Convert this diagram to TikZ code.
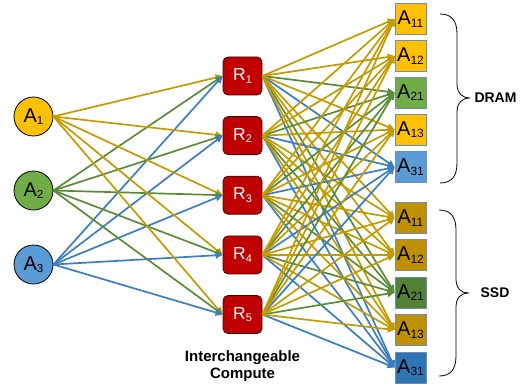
\documentclass[tikz,border=0pt]{standalone}
\usepackage{fontspec}
\setmainfont{Liberation Sans}
\usetikzlibrary{arrows.meta}
\definecolor{goldF}{HTML}{FFC000}
\definecolor{greenF}{HTML}{70AD47}
\definecolor{blueF}{HTML}{5B9BD5}
\definecolor{goldD}{HTML}{BF9000}
\definecolor{greenD}{HTML}{548235}
\definecolor{blueD}{HTML}{2E75B6}
\definecolor{goldE}{HTML}{C39B00}
\definecolor{greenE}{HTML}{5A8C34}
\definecolor{blueE}{HTML}{3A7EC2}
\definecolor{redF}{HTML}{C00000}
\definecolor{redB}{HTML}{3A0A0A}
\definecolor{boxB}{HTML}{6F8DB8}
\newcommand\cirlab[1]{\fontsize{20}{20}\selectfont A\raisebox{-2.5pt}{\fontsize{11.5}{11.5}\selectfont #1}}
\newcommand\rlab[1]{\fontsize{17.5}{17.5}\selectfont R\raisebox{-2.5pt}{\fontsize{11}{11}\selectfont #1}}
\newcommand\blab[1]{\fontsize{20}{20}\selectfont A\raisebox{-2.5pt}{\fontsize{12}{12}\selectfont #1}}
\begin{document}
\begin{tikzpicture}[x=1pt,y=-1pt,
  circ/.style={circle,draw=black,line width=0.8pt,minimum size=39pt,inner sep=0pt},
  rbox/.style={rectangle,rounded corners=5pt,draw=redB,line width=0.8pt,fill=redF,text=white,minimum width=39pt,minimum height=38pt,inner sep=0pt},
  sbox/.style={rectangle,draw=boxB,line width=0.8pt,minimum width=31pt,minimum height=31pt,inner sep=0pt},
  edge/.style={line width=1.7pt,-{Triangle[length=7pt,width=6.5pt]}},
  ge/.style={edge,draw=goldE,fill=goldE},
  gre/.style={edge,draw=greenE,fill=greenE},
  be/.style={edge,draw=blueE,fill=blueE},
  brace/.style={draw=black,line width=0.8pt},
  lbl/.style={font=\bfseries\fontsize{14}{14}\selectfont}
]
\useasboundingbox (0,0) rectangle (521,385);

% left circles
\node[circ,fill=goldF] (A1) at (33.5,116.5) {\cirlab{1}};
\node[circ,fill=greenF] (A2) at (33.5,190.5) {\cirlab{2}};
\node[circ,fill=blueF] (A3) at (33.5,264.5) {\cirlab{3}};

% compute boxes
\node[rbox] (R1) at (242.5,76) {\rlab{1}};
\node[rbox] (R2) at (242.5,135.6) {\rlab{2}};
\node[rbox] (R3) at (242.5,195.2) {\rlab{3}};
\node[rbox] (R4) at (242.5,254.9) {\rlab{4}};
\node[rbox] (R5) at (242.5,314.5) {\rlab{5}};

% DRAM boxes
\node[sbox,fill=goldF] (D11) at (410.5,19) {\blab{11}};
\node[sbox,fill=goldF] (D12) at (410.5,56) {\blab{12}};
\node[sbox,fill=greenF] (D21) at (410.5,92.5) {\blab{21}};
\node[sbox,fill=goldF] (D13) at (410.5,129.5) {\blab{13}};
\node[sbox,fill=blueF] (D31) at (410.5,167) {\blab{31}};
% SSD boxes
\node[sbox,fill=goldD] (S11) at (410.5,218) {\blab{11}};
\node[sbox,fill=goldD] (S12) at (410.5,255) {\blab{12}};
\node[sbox,fill=greenD] (S21) at (410.5,292.5) {\blab{21}};
\node[sbox,fill=goldD] (S13) at (410.5,330) {\blab{13}};
\node[sbox,fill=blueD] (S31) at (410.5,367.5) {\blab{31}};

% left edges
\foreach \j in {1,...,5} {
  \draw[ge] (A1.east) -- (R\j.west);
  \draw[gre] (A2.east) -- (R\j.west);
  \draw[be] (A3.east) -- (R\j.west);
}
% right edges
\foreach \j in {1,...,5} {
  \foreach \b in {D31,S31} { \draw[be] (R\j.east) -- (\b.west); }
  \foreach \b in {D21,S21} { \draw[gre] (R\j.east) -- (\b.west); }
  \foreach \b in {D11,D12,D13,S11,S12,S13} { \draw[ge] (R\j.east) -- (\b.west); }
}

% braces
\draw[brace] (440,14) .. controls (451,14) and (457,20) .. (457,34) -- (457,84)
  .. controls (457,93) and (462,98) .. (470,98)
  .. controls (462,98) and (457,103) .. (457,112) -- (457,163)
  .. controls (457,177) and (451,183) .. (440,183);
\draw[brace] (439,210) .. controls (450,210) and (456,216) .. (456,230) -- (456,279)
  .. controls (456,288) and (461,293) .. (468,293)
  .. controls (461,293) and (456,298) .. (456,307) -- (456,356)
  .. controls (456,370) and (450,376) .. (439,376);

\node[lbl] (dram) at (495.5,98) {DRAM};
\node[lbl] (ssd) at (495,293) {SSD};
\node[font=\bfseries\fontsize{15}{17}\selectfont,align=center] (ic) at (242.5,366.5) {Interchangeable\\Compute};
\end{tikzpicture}
\end{document}
